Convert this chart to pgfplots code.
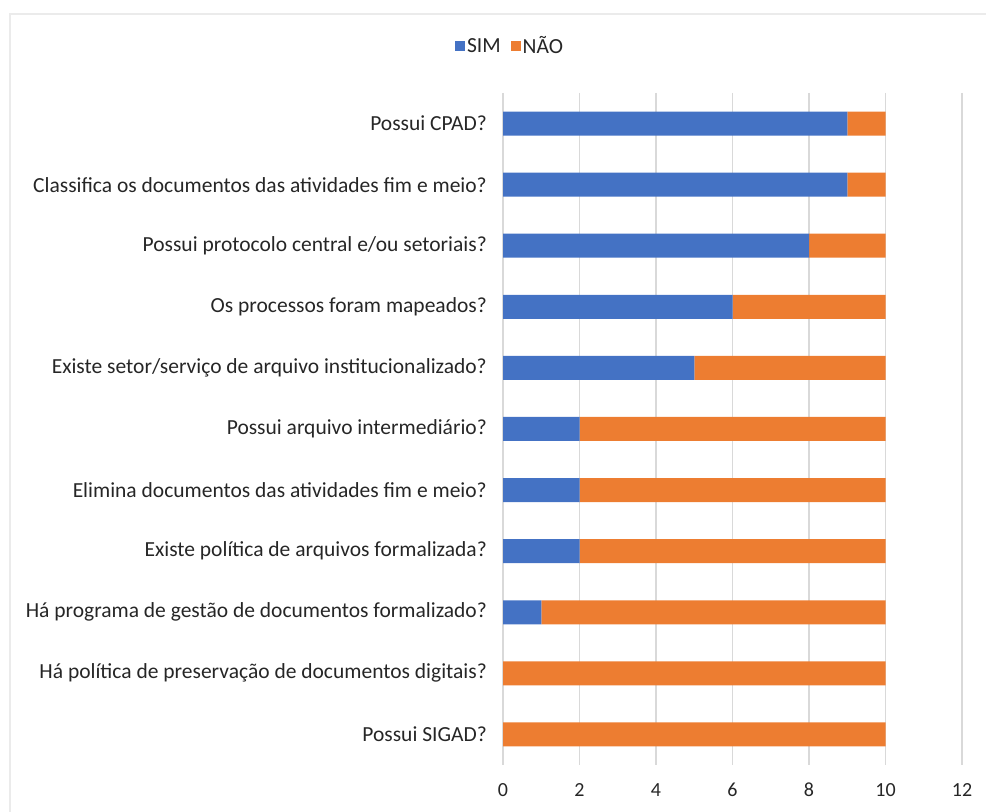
\documentclass[border=0pt]{standalone}
\usepackage{pgfplots}
\pgfplotsset{compat=1.18}
\usepackage{fontspec}
\setmainfont{Carlito}
\definecolor{cblue}{HTML}{4472C4}
\definecolor{corange}{HTML}{ED7D31}
\definecolor{cgrid}{HTML}{D9D9D9}
\definecolor{ctext}{HTML}{262626}
\begin{document}
\begin{tikzpicture}[x=1bp,y=1bp]
\useasboundingbox (0,0) rectangle (986,812);
\draw[color=black!8, line width=1.5bp] (10,0) -- (10,798) -- (986,798);
\begin{axis}[
  at={(503bp,47bp)}, anchor=south west,
  scale only axis, width=459bp, height=672bp,
  xbar stacked, bar width=24bp,
  xmin=0, xmax=12, xtick={0,2,...,12},
  ymin=-0.5, ymax=10.5, y dir=reverse,
  ytick={0,...,10},
  yticklabels={Possui CPAD?,Classifica os documentos das atividades fim e meio?,Possui protocolo central e/ou setoriais?,Os processos foram mapeados?,Existe setor/serviço de arquivo institucionalizado?,Possui arquivo intermediário?,Elimina documentos das atividades fim e meio?,Existe política de arquivos formalizada?,Há programa de gestão de documentos formalizado?,Há política de preservação de documentos digitais?,Possui SIGAD?},
  axis line style={draw=none}, major tick length=0pt,
  xmajorgrids, grid style={cgrid, line width=1.2bp},
  /pgf/number format/assume math mode=true,
  yticklabel style={font=\fontsize{21.5bp}{23bp}\selectfont, text=ctext, inner sep=0pt, xshift=-16bp},
  xticklabel style={font=\fontsize{20bp}{22bp}\selectfont, text=ctext, anchor=center, yshift=-25bp},
  legend style={at={(axis description cs:0.0153,1.0699)}, anchor=center, draw=none, fill=none,
    legend columns=2, font=\fontsize{21.5bp}{23bp}\selectfont, text=ctext,
    /tikz/every even column/.append style={column sep=8bp}},
  legend image code/.code={\fill[#1] (0bp,-5bp) rectangle (10bp,5bp);},
]
\addplot[fill=cblue, draw=none] coordinates {(9,0) (9,1) (8,2) (6,3) (5,4) (2,5) (2,6) (2,7) (1,8) (0,9) (0,10)};
\addplot[fill=corange, draw=none] coordinates {(1,0) (1,1) (2,2) (4,3) (5,4) (8,5) (8,6) (8,7) (9,8) (10,9) (10,10)};
\legend{SIM,NÃO}
\end{axis}
\end{tikzpicture}
\end{document}
